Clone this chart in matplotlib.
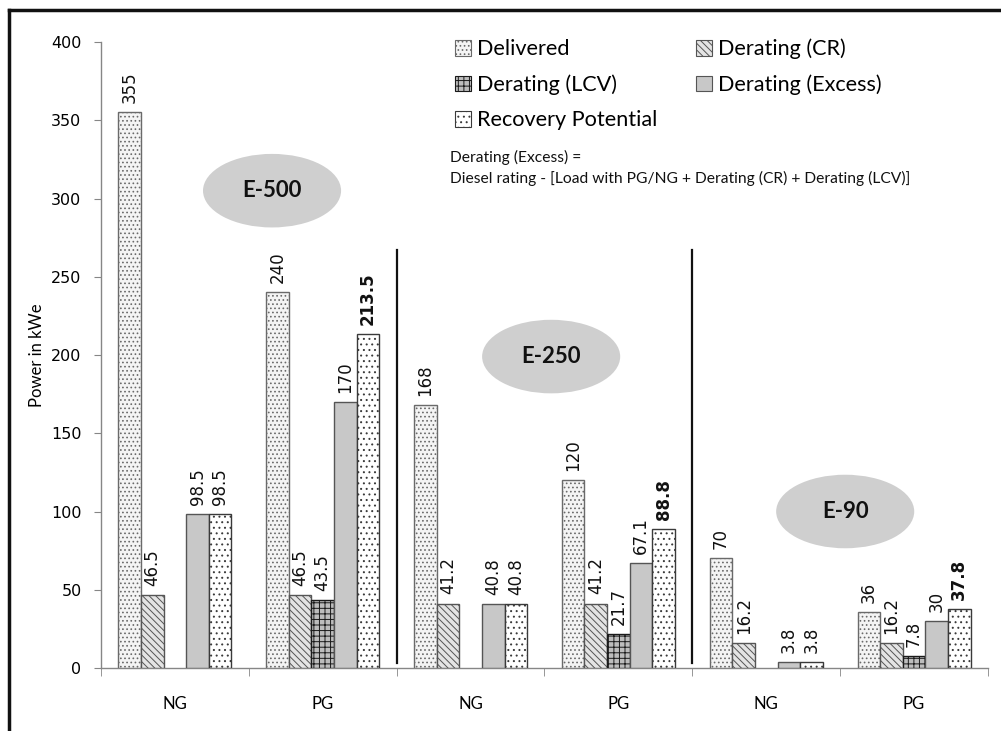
import numpy as np
import matplotlib
matplotlib.use("Agg")
import matplotlib.pyplot as plt
from matplotlib.patches import Ellipse, Patch
from matplotlib.lines import Line2D

# ---- data ----
categories = ["NG", "PG", "NG", "PG", "NG", "PG"]
series_names = ["Delivered", "Derating (CR)", "Derating (LCV)", "Derating (Excess)", "Recovery Potential"]
delivered = [355, 240, 168, 120, 70, 36]
derating_cr = [46.5, 46.5, 41.2, 41.2, 16.2, 16.2]
derating_lcv = [0, 43.5, 0, 21.7, 0, 7.8]
derating_excess = [98.5, 170, 40.8, 67.1, 3.8, 30]
recovery = [98.5, 213.5, 40.8, 88.8, 3.8, 37.8]
engines = ["E-500", "E-250", "E-90"]
yticks = [0, 50, 100, 150, 200, 250, 300, 350, 400]

CAL = ["Lato", "DejaVu Sans"]
plt.rcParams["hatch.linewidth"] = 0.7

fig = plt.figure(figsize=(10.01, 7.31), dpi=100)
ax = fig.add_axes([101/1001, 1 - 668/731, (988-101)/1001, (668-42)/731])

series = [delivered, derating_cr, derating_lcv, derating_excess, recovery]
styles = [
    dict(facecolor="#f4f4f4", hatch="....", edgecolor="#6a6a6a"),
    dict(facecolor="#e4e4e4", hatch="\\\\\\\\\\", edgecolor="#555555"),
    dict(facecolor="#bdbdbd", hatch="+++", edgecolor="#1a1a1a"),
    dict(facecolor="#c8c8c8", hatch="", edgecolor="#555555"),
    dict(facecolor="#ffffff", hatch="...", edgecolor="#3a3a3a"),
]
x = np.arange(len(categories))
w = 0.153
handles = []
for i, (vals, st) in enumerate(zip(series, styles)):
    v = np.array(vals, dtype=float)
    vdraw = np.where(v == 0, np.nan, v)
    pos = x + (i - 2) * w
    ax.bar(pos, vdraw, width=w, linewidth=1.0, **st, zorder=3)
    handles.append(Patch(**st, linewidth=0.8, label=series_names[i]))
    for j, (p, val) in enumerate(zip(pos, v)):
        if val == 0:
            continue
        txt = f"{val:g}"
        bold = (i == 4 and categories[j] == "PG")
        ax.annotate(txt, (p, val), xytext=(0, 6.5), textcoords="offset points",
                    rotation=90, ha="center", va="bottom", fontsize=12,
                    fontweight="bold" if bold else "normal",
                    family="DejaVu Sans", color="#111111")

ax.set_xlim(-0.5, 5.5)
ax.set_ylim(0, 400)
ax.set_yticks(yticks)
ax.set_yticklabels([str(t) for t in yticks], fontsize=11.5, family="DejaVu Sans")
ax.set_xticks(x)
ax.set_xticklabels(categories, fontsize=12, family=CAL)
ax.set_xticks(np.arange(-0.5, 6, 1), minor=True)
ax.tick_params(axis="x", which="major", length=0, pad=20)
ax.tick_params(axis="x", which="minor", length=6, color="#868686", direction="out")
ax.tick_params(axis="y", length=5, color="#868686", direction="out", pad=9)
for s in ["top", "right"]:
    ax.spines[s].set_visible(False)
for s in ["left", "bottom"]:
    ax.spines[s].set_color("#868686")
    ax.spines[s].set_linewidth(1.0)
ax.set_ylabel("Power in kWe", fontsize=12, family=CAL, labelpad=4)

# separators between engines
for xb in [1.5, 3.5]:
    ax.plot([xb, xb], [3, 267], color="#111111", lw=1.6, zorder=4)

# engine ellipses
ell_pos = [(0.657, 305), (2.545, 199), (4.534, 100)]
for name, (ex, ey) in zip(engines, ell_pos):
    ax.add_patch(Ellipse((ex, ey), 0.934, 47, facecolor="#cfcfcf", edgecolor="none", zorder=2))
    ax.text(ex, ey, name, ha="center", va="center", fontsize=16, fontweight="bold",
            family=CAL, color="#111111", zorder=5)

# legend
order = [0, 2, 4, 1, 3]
leg = fig.legend([handles[k] for k in order], [series_names[k] for k in order],
                 ncol=2, loc="upper left", bbox_to_anchor=(446/1001, 1 - 30/731),
                 frameon=False, prop={"family": CAL, "size": 15.6},
                 handlelength=0.75, handleheight=0.75, handletextpad=0.3,
                 columnspacing=1.75, labelspacing=0.7, borderaxespad=0)

fig.text(450/1001, 1 - 157/731, "Derating (Excess) =", fontsize=11.25, family=CAL,
         ha="left", va="center", color="#111111")
fig.text(450/1001, 1 - 178/731,
         "Diesel rating - [Load with PG/NG + Derating (CR) + Derating (LCV)]",
         fontsize=11.25, family=CAL, ha="left", va="center", color="#111111")

# figure border (left and top)
fig.add_artist(Line2D([9/1001, 9/1001], [0, 1 - 10/731], color="#111111", lw=2.5,
                      transform=fig.transFigure))
fig.add_artist(Line2D([9/1001, 1], [1 - 10/731, 1 - 10/731], color="#111111", lw=2.5,
                      transform=fig.transFigure))

fig.savefig("out.png", dpi=100)
